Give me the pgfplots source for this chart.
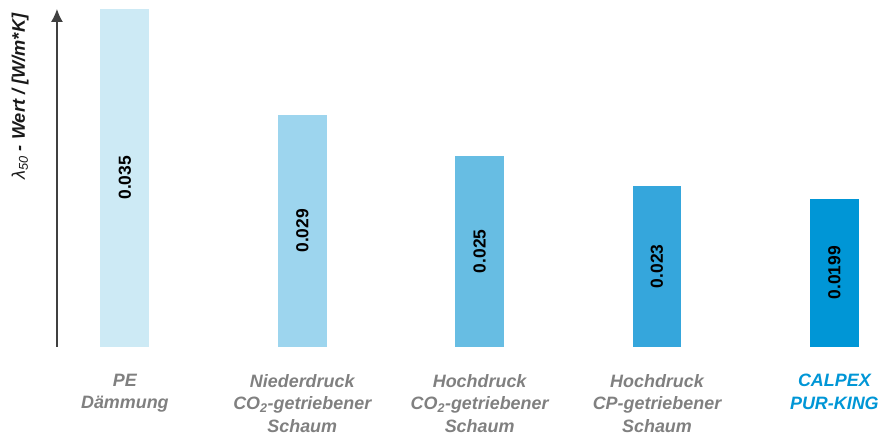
\documentclass[border=0pt]{standalone}
\usepackage{pgfplots}
\pgfplotsset{compat=1.18}
\usepackage{fontspec}
\setmainfont{Liberation Sans}
\usetikzlibrary{arrows.meta}
\definecolor{c1}{HTML}{CDEAF5}
\definecolor{c2}{HTML}{9DD5EE}
\definecolor{c3}{HTML}{67BDE3}
\definecolor{c4}{HTML}{35A6DC}
\definecolor{c5}{HTML}{0096D6}
\definecolor{lbl}{HTML}{808080}
\definecolor{calpex}{HTML}{0096D6}
\begin{document}
\begin{tikzpicture}
\begin{axis}[
  scale only axis, width=825bp, height=338bp,
  ybar, bar width=49bp, bar shift=0pt,
  xmin=-0.383, xmax=4.265, ymin=0, ymax=338,
  axis lines=left,
  x axis line style={draw=none},
  y axis line style={draw=black!75, line width=1.3pt, -{Latex[length=13bp,width=12bp]}},
  ytick=\empty, xtick={0,1,2,3,4}, major tick length=0pt,
  xticklabels={
    {PE\\Dämmung},
    {Niederdruck\\CO\textsubscript{2}-getriebener\\Schaum},
    {Hochdruck\\CO\textsubscript{2}-getriebener\\Schaum},
    {Hochdruck\\CP-getriebener\\Schaum},
    {\textcolor{calpex}{CALPEX}\\\textcolor{calpex}{PUR-KING}}},
  xticklabel style={align=center, text=lbl, yshift=-24bp,
    font=\bfseries\itshape\fontsize{18}{22.5}\selectfont},
  ylabel={\textit{λ}\textsubscript{\textit{50}}\textbf{\textit{ - Wert / [W/m*K]}}},
  ylabel style={at={(axis description cs:-0.039,0.988)}, anchor=base east,
    inner sep=0pt, font=\fontsize{18.3}{20}\selectfont, text=black!90},
  point meta=explicit symbolic,
  nodes near coords,
  visualization depends on={rawy \as \rawy},
  every node near coord/.style={yshift={-0.5*\rawy*1bp}, rotate=90, anchor=center,
    font=\bfseries\fontsize{17.5}{20}\selectfont, text=black},
  clip=false,
]
% bar heights as drawn (axis units = bp), labels as printed
\addplot[fill=c1, draw=none] coordinates {(0,338) [0.035]};
\addplot[fill=c2, draw=none] coordinates {(1,232) [0.029]};
\addplot[fill=c3, draw=none] coordinates {(2,191) [0.025]};
\addplot[fill=c4, draw=none] coordinates {(3,161) [0.023]};
\addplot[fill=c5, draw=none] coordinates {(4,148) [0.0199]};
\end{axis}
\path (current axis.south west) ++(-57bp,-87bp) rectangle ++(882bp,434bp);
\end{tikzpicture}
\end{document}
